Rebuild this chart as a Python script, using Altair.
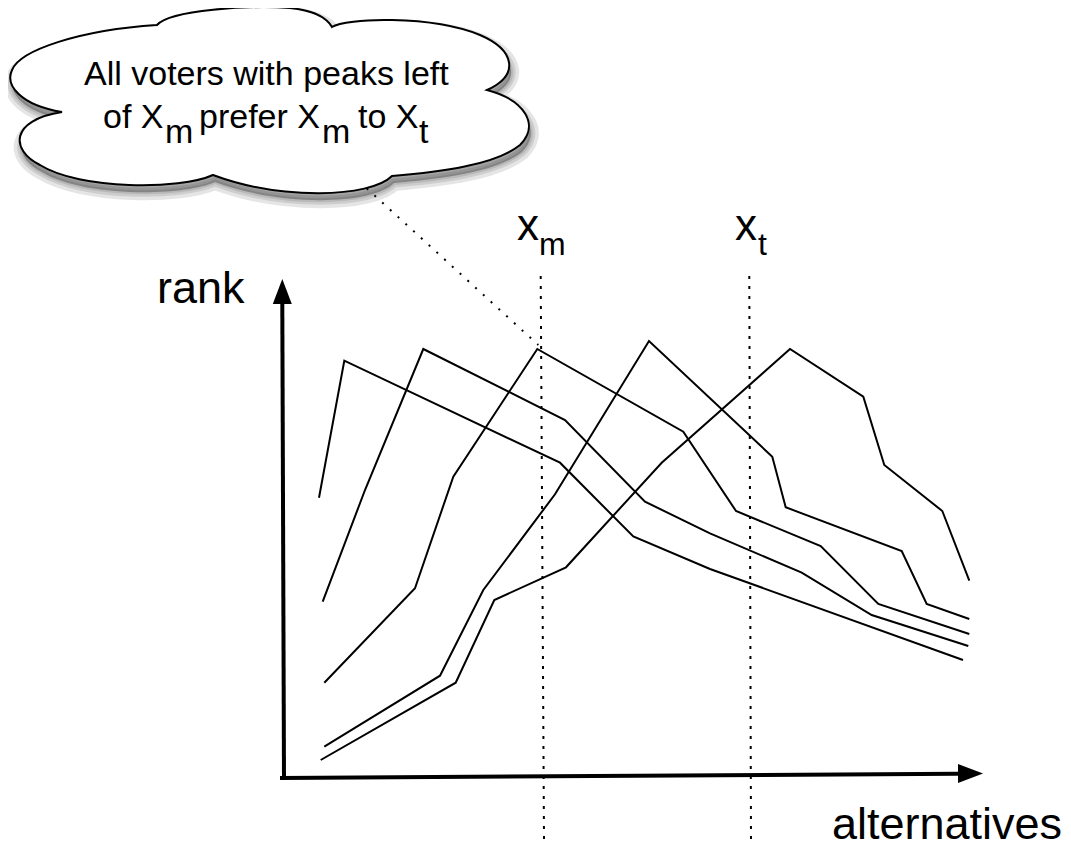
import altair as alt
import pandas as pd

# ---------------- data ----------------
# x = position on the "alternatives" axis, y = rank (both in picture units,
# origin at the corner of the two axes)
voter_a_x = [37.0, 62.3, 278.0, 351.3, 428.0, 681.0]
voter_a_y = [280.3, 417.3, 315.3, 241.5, 209.0, 118.0]
voter_b_x = [40.7, 83.0, 141.3, 283.0, 363.0, 428.0, 519.7, 589.7, 686.3]
voter_b_y = [176.3, 288.0, 429.0, 358.0, 276.3, 244.7, 205.3, 163.0, 132.0]
voter_c_x = [42.3, 133.0, 171.3, 255.3, 401.3, 454.0, 538.7, 596.3, 687.3]
voter_c_y = [95.3, 189.7, 301.3, 429.0, 346.3, 267.0, 232.0, 174.0, 144.0]
voter_d_x = [42.3, 158.0, 201.3, 273.0, 367.0, 490.3, 503.7, 619.7, 644.7, 687.3]
voter_d_y = [31.3, 102.3, 188.0, 283.7, 437.0, 321.3, 270.7, 227.0, 174.0, 159.0]
voter_e_x = [38.7, 173.7, 212.3, 284.0, 379.7, 508.0, 581.3, 602.3, 660.3, 687.3]
voter_e_y = [18.0, 95.3, 178.0, 210.7, 315.3, 429.0, 381.3, 313.0, 267.0, 197.3]

marker_names = ["x_m", "x_t"]
marker_x_top = [258.7, 467.3]
marker_x_bottom = [262.0, 469.0]

label_rank = "rank"
label_alternatives = "alternatives"
cloud_line1 = "All voters with peaks left"

# ---------------- layout ----------------
W, H = 1055, 834
X_DOMAIN = [-274, 781]
Y_DOMAIN = [-64, 770]
xs = alt.Scale(domain=X_DOMAIN, nice=False, zero=False)
ys = alt.Scale(domain=Y_DOMAIN, nice=False, zero=False)
FONT = "Liberation Sans"


def X(f):
    return alt.X(f, type="quantitative", scale=xs, axis=None)


def Y(f):
    return alt.Y(f, type="quantitative", scale=ys, axis=None)


# voter lines
rows = []
for name, vx, vy in [("a", voter_a_x, voter_a_y), ("b", voter_b_x, voter_b_y),
                     ("c", voter_c_x, voter_c_y), ("d", voter_d_x, voter_d_y),
                     ("e", voter_e_x, voter_e_y)]:
    for i, (a, b) in enumerate(zip(vx, vy)):
        rows.append({"voter": name, "x": a, "y": b, "order": i})
lines_df = pd.DataFrame(rows)

lines = alt.Chart(lines_df).mark_line(color="black", strokeWidth=2).encode(
    x=X("x"), y=Y("y"), detail="voter:N", order="order:Q"
)

# dotted markers x_m, x_t
markers_df = pd.DataFrame({
    "name": marker_names,
    "x": marker_x_top, "x2": marker_x_bottom,
    "y": [502.0] * 2, "y2": [-63.0] * 2,
})
markers = alt.Chart(markers_df).mark_rule(
    color="black", strokeWidth=2, strokeDash=[3, 7]
).encode(x=X("x"), x2="x2", y=Y("y"), y2="y2")

# leader from cloud to peak
leader_df = pd.DataFrame({"x": [84.7], "y": [589.7], "x2": [256.3], "y2": [433.0]})
leader = alt.Chart(leader_df).mark_rule(
    color="black", strokeWidth=2, strokeDash=[2, 8.5]
).encode(x=X("x"), x2="x2", y=Y("y"), y2="y2")

# axes
axes_df = pd.DataFrame({
    "x": [-2.0, 2.0], "y": [0.0, -2.0], "x2": [676.0, 0.3], "y2": [4.3, 474.0]
})
axes = alt.Chart(axes_df).mark_rule(color="black", strokeWidth=4).encode(
    x=X("x"), x2="x2", y=Y("y"), y2="y2"
)
arrows_df = pd.DataFrame({
    "x": [688.5, 0.3], "y": [4.5, 486.5],
    "shape": ["M1,0L-1,0.76L-1,-0.76Z", "M0,-1L0.76,1L-0.76,1Z"],
})
arrows = alt.Chart(arrows_df).mark_point(
    filled=True, color="black", size=625, opacity=1
).encode(x=X("x"), y=Y("y"), shape=alt.Shape("shape:N", scale=None))

# cloud shape (outline in picture pixels, normalised to a unit symbol)
outline = [
    ("M", [(62, 112)]),
    ("C", [(20, 105), (5, 85), (12, 70)]),
    ("C", [(20, 50), (80, 30), (157, 25)]),
    ("C", [(170, 10), (250, 5), (290, 8)]),
    ("C", [(310, 10), (325, 15), (332, 27)]),
    ("C", [(345, 18), (430, 15), (480, 35)]),
    ("C", [(515, 50), (520, 75), (487, 90)]),
    ("C", [(525, 100), (540, 125), (520, 145)]),
    ("C", [(495, 165), (440, 172), (392, 176)]),
    ("C", [(370, 198), (280, 200), (213, 175)]),
    ("C", [(180, 190), (80, 190), (40, 165)]),
    ("C", [(10, 150), (10, 120), (62, 112)]),
]
CX, CY, HALF = 271.0, 101.5, 262.0
parts = []
for cmd, pts in outline:
    coords = " ".join(f"{(px - CX) / HALF:.4f},{(py - CY) / HALF:.4f}" for px, py in pts)
    parts.append(cmd + coords)
cloud_path = " ".join(parts) + " Z"
cloud_size = (2 * HALF) ** 2
cloud_pos = pd.DataFrame({"x": [CX - 282.0], "y": [778.0 - CY]})

shadows = []
for w in [16, 9, 4]:
    shadows.append(
        alt.Chart(cloud_pos).mark_point(
            shape=cloud_path, size=cloud_size, filled=True,
            fill="black", fillOpacity=0.1, stroke="black", strokeOpacity=0.1,
            strokeWidth=w, xOffset=2, yOffset=7,
        ).encode(x=X("x"), y=Y("y"))
    )
cloud = alt.Chart(cloud_pos).mark_point(
    shape=cloud_path, size=cloud_size, filled=True, fill="white",
    stroke="black", strokeWidth=2, opacity=1, fillOpacity=1,
).encode(x=X("x"), y=Y("y"))

# texts
texts_df = pd.DataFrame([
    {"x": -125, "y": 475, "text": label_rank, "size": 45},
    {"x": 550, "y": -61, "text": label_alternatives, "size": 45},
    {"x": 235, "y": 538, "text": "x", "size": 44},
    {"x": 257, "y": 523, "text": "m", "size": 32},
    {"x": 453, "y": 538, "text": "x", "size": 44},
    {"x": 476, "y": 523, "text": "t", "size": 32},
    {"x": -198, "y": 693, "text": cloud_line1, "size": 34},
    {"x": -179, "y": 650, "text": "of X", "size": 34},
    {"x": -117, "y": 635, "text": "m", "size": 34},
    {"x": -83, "y": 650, "text": "prefer X", "size": 34},
    {"x": 40, "y": 635, "text": "m", "size": 34},
    {"x": 76, "y": 650, "text": "to X", "size": 34},
    {"x": 137, "y": 635, "text": "t", "size": 34},
])
texts = alt.Chart(texts_df).mark_text(
    align="left", baseline="alphabetic", font=FONT, color="black"
).encode(x=X("x"), y=Y("y"), text="text:N", size=alt.Size("size:Q", scale=None))

chart = alt.layer(
    *shadows, cloud, leader, markers, lines, axes, arrows, texts
).properties(
    width=W, height=H, padding=0,
    autosize=alt.AutoSizeParams(type="none"),
).configure_view(stroke=None)

chart.save("out.html", embed_options={"renderer": "svg", "actions": False})
